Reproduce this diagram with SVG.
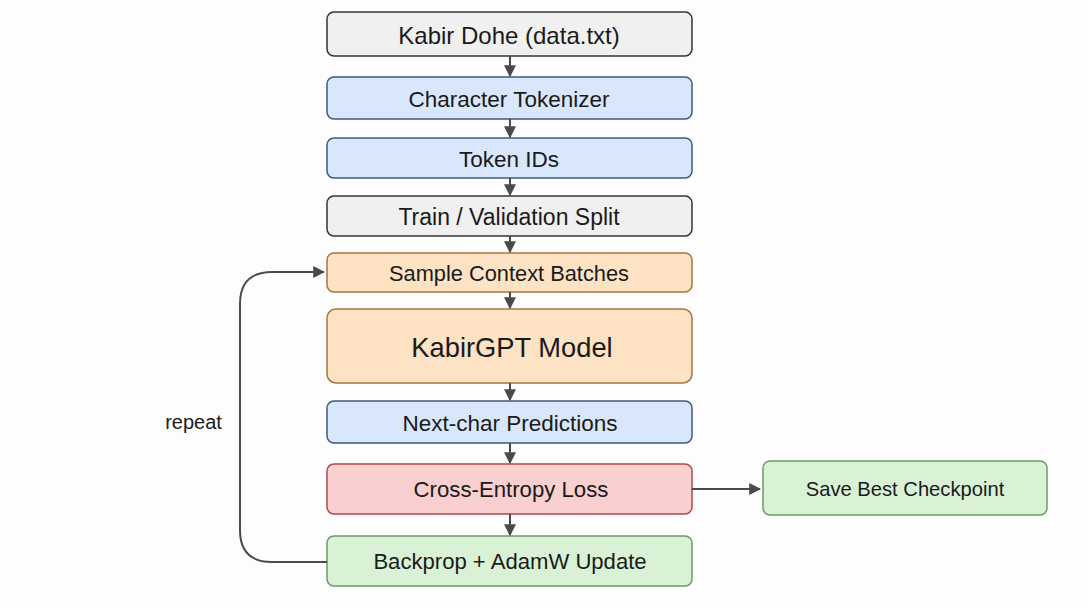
<svg xmlns="http://www.w3.org/2000/svg" width="1088" height="608" viewBox="0 0 1088 608">
<defs>
<style>
text{font-family:"Liberation Sans",Arial,sans-serif;fill:#1a1a1a;text-anchor:middle;dominant-baseline:central}
.gray{fill:#f0f0f0;stroke:#333;stroke-width:1.5}
.blue{fill:#d8e7fb;stroke:#3d5a80;stroke-width:1.5}
.orange{fill:#fde2c4;stroke:#a5763f;stroke-width:1.5}
.red{fill:#f9cfcf;stroke:#b04848;stroke-width:1.5}
.green{fill:#d9f2d6;stroke:#6a9a66;stroke-width:1.5}
.e{fill:none;stroke:#4a4a4a;stroke-width:2}
</style>
<marker id="ah" viewBox="0 0 10 10" refX="9" refY="5" markerWidth="6" markerHeight="6" orient="auto" markerUnits="strokeWidth">
<path d="M0,0 L10,5 L0,10 z" fill="#4a4a4a"/>
</marker>
</defs>
<rect width="1088" height="608" fill="#fdfdfd"/>
<g id="n1"><rect class="gray" x="327" y="12" width="365" height="44" rx="7"/><text x="509" y="35" font-size="24">Kabir Dohe (data.txt)</text></g>
<g id="n2"><rect class="blue" x="327" y="77" width="365" height="42" rx="7"/><text x="509" y="99" font-size="22.5">Character Tokenizer</text></g>
<g id="n3"><rect class="blue" x="327" y="138" width="365" height="40" rx="7"/><text x="509" y="159" font-size="22.5">Token IDs</text></g>
<g id="n4"><rect class="gray" x="327" y="196" width="365" height="40" rx="7"/><text x="509" y="217" font-size="23">Train / Validation Split</text></g>
<g id="n5"><rect class="orange" x="327" y="253" width="365" height="39" rx="7"/><text x="509" y="273" font-size="21.8">Sample Context Batches</text></g>
<g id="n6"><rect class="orange" x="327" y="309" width="365" height="74" rx="9"/><text x="512" y="347" font-size="27.3">KabirGPT Model</text></g>
<g id="n7"><rect class="blue" x="327" y="401" width="365" height="42" rx="7"/><text x="510" y="423" font-size="22.5">Next-char Predictions</text></g>
<g id="n8"><rect class="red" x="327" y="464" width="365" height="50" rx="7"/><text x="511" y="489" font-size="22.2">Cross-Entropy Loss</text></g>
<g id="n9"><rect class="green" x="327" y="536" width="365" height="50" rx="7"/><text x="510" y="561" font-size="22.1">Backprop + AdamW Update</text></g>
<g id="n10"><rect class="green" x="763" y="461" width="284" height="54" rx="7"/><text x="905" y="489" font-size="20.2">Save Best Checkpoint</text></g>
<g id="repeat-label"><text x="193.5" y="422" font-size="20">repeat</text></g>
<g id="edges">
<line class="e" x1="510" y1="56" x2="510" y2="76" marker-end="url(#ah)"/>
<line class="e" x1="510" y1="119" x2="510" y2="137" marker-end="url(#ah)"/>
<line class="e" x1="510" y1="178" x2="510" y2="195" marker-end="url(#ah)"/>
<line class="e" x1="510" y1="236" x2="510" y2="252" marker-end="url(#ah)"/>
<line class="e" x1="510" y1="292" x2="510" y2="308" marker-end="url(#ah)"/>
<line class="e" x1="510" y1="383" x2="510" y2="400" marker-end="url(#ah)"/>
<line class="e" x1="510" y1="443" x2="510" y2="463" marker-end="url(#ah)"/>
<line class="e" x1="510" y1="514" x2="510" y2="535" marker-end="url(#ah)"/>
<line class="e" x1="692" y1="489" x2="760" y2="489" marker-end="url(#ah)"/>
<path class="e" d="M327,562 L272,562 Q240,562 240,530 L240,304 Q240,272 272,272 L324,272" marker-end="url(#ah)"/>
</g>
</svg>
